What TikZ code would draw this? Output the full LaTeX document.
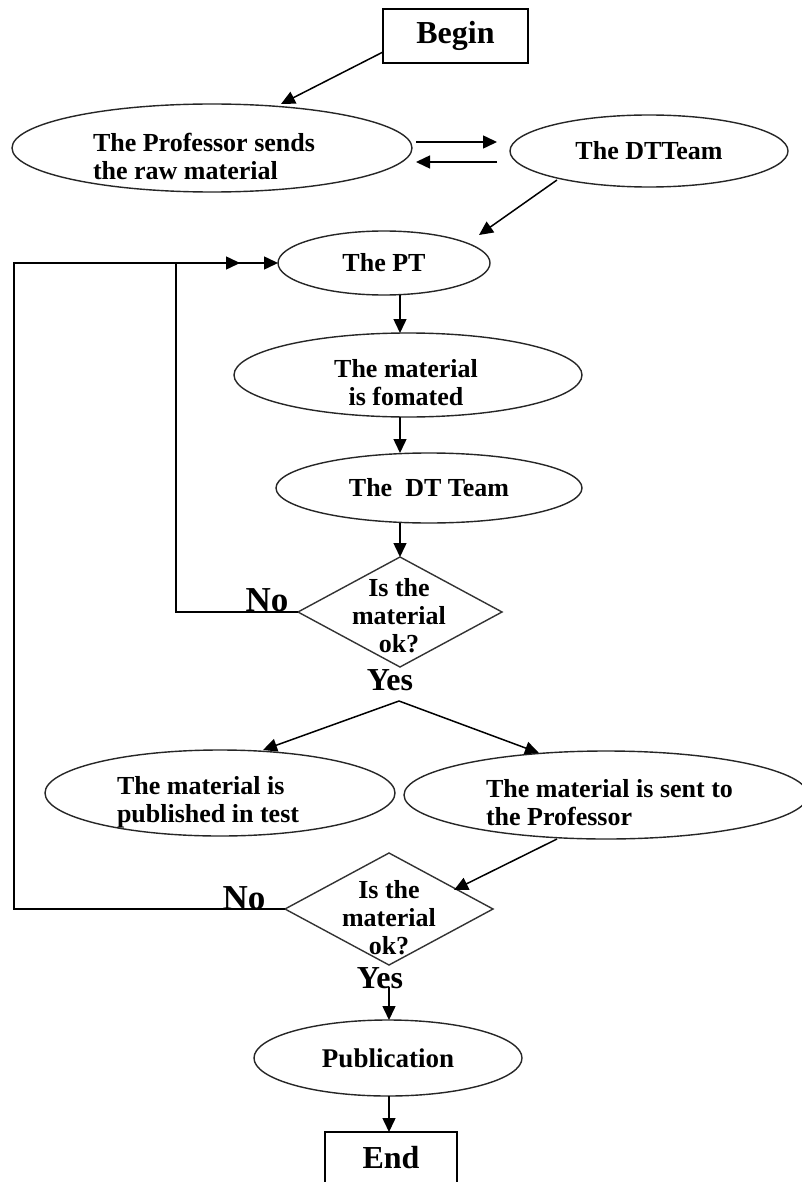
\documentclass[tikz,border=0pt]{standalone}
\usepackage{fontspec}
\setmainfont{Liberation Serif}
\usetikzlibrary{shapes.geometric,arrows.meta,calc}
\begin{document}
\begin{tikzpicture}[x=1pt,y=-1pt,
  base/.style={line width=1.4pt, inner sep=0pt, outer sep=0pt, font=\bfseries\fontsize{26}{28}\selectfont},
  oval/.style={base, draw=black!85, ellipse},
  boxnode/.style={base, draw, rectangle, font=\bfseries\fontsize{32}{34}\selectfont},
  dia/.style={base, draw=black!80, diamond},
  txt/.style={base, align=center},
  nolbl/.style={base, font=\bfseries\fontsize{35}{37}\selectfont},
  yeslbl/.style={base, font=\bfseries\fontsize{32}{34}\selectfont},
  arr/.style={line width=1.5pt, -{Triangle[length=14pt,width=13pt]}},
  ln/.style={line width=1.5pt}]
\useasboundingbox (0,0) rectangle (802,1182);
\fill[white] (0,0) rectangle (802,1182);
\clip (0,0) rectangle (802,1182);

% nodes
\node[boxnode, minimum width=145pt, minimum height=54pt] (begin) at (455.5,36) {Begin};
\node[oval, minimum width=400pt, minimum height=88pt] (prof) at (212,148) {};
\node[txt, align=left, anchor=west] (proft) at (93,156) {The Professor sends\\the raw material};
\node[oval, minimum width=278pt, minimum height=72pt] (dtt1) at (649,151) {The DTTeam};
\node[oval, minimum width=212pt, minimum height=64pt] (pt) at (384,263) {The PT};
\node[oval, minimum width=348pt, minimum height=84pt] (fmt) at (408,375) {};
\node[txt] (fmtt) at (406,383) {The material\\is fomated};
\node[oval, minimum width=306pt, minimum height=70pt] (dtt2) at (429,488) {The\ \ DT Team};
\node[dia, minimum width=204pt, minimum height=110pt] (d1) at (400,612) {};
\node[txt] (d1t) at (399,616) {Is the\\material\\ok?};
\node[nolbl] (no1) at (267,600) {No};
\node[yeslbl] (yes1) at (390,680) {Yes};
\node[oval, minimum width=350pt, minimum height=86pt] (pubt) at (220,793) {};
\node[txt, align=left, anchor=west] (pubtt) at (117,802) {The material is\\published in test};
\node[oval, minimum width=404pt, minimum height=88pt] (sent) at (606,795) {};
\node[txt, align=left, anchor=west] (sentt) at (486,803) {The material is sent to\\the Professor};
\node[dia, minimum width=208pt, minimum height=112pt] (d2) at (389,909) {};
\node[txt] (d2t) at (389,918) {Is the\\material\\ok?};
\node[nolbl] (no2) at (244,898) {No};
\node[yeslbl] (yes2) at (380,978) {Yes};
\node[oval, minimum width=268pt, minimum height=76pt, font=\bfseries\fontsize{27}{29}\selectfont] (publ) at (388,1058) {Publication};
\node[boxnode, minimum width=132pt, minimum height=52pt] (end) at (391,1158) {End};

% helper coordinates
\coordinate (colA) at (400,0);
\coordinate (colB) at (389,0);
\coordinate (loopA) at (176,612);
\coordinate (loopB) at (14,909);
\coordinate (outerTip) at (240,263);
\coordinate (apex) at (399,701);
\coordinate (ytail) at (389,987);

% connectors
\draw[arr] ([yshift=-16pt]begin.west) -- ([xshift=69pt]prof.north);
\draw[arr] ([xshift=4pt,yshift=6pt]prof.east) -- ([xshift=-13pt,yshift=9pt]dtt1.west);
\draw[arr] ([xshift=-13pt,yshift=-11pt]dtt1.west) -- ([xshift=4pt,yshift=-14pt]prof.east);
\draw[arr] ([xshift=-92pt,yshift=7pt]dtt1.south) -- ([xshift=95pt,yshift=-4pt]pt.north);
\draw[arr] (pt.south -| colA) -- (fmt.north -| colA);
\draw[arr] (fmt.south -| colA) -- (dtt2.north -| colA);
\draw[arr] (dtt2.south -| colA) -- (d1.north);
\draw[arr] (d2.west) -- (loopB) |- (outerTip);
\draw[arr] (d1.west) -- (loopA) |- (pt.west);
\draw[arr] (apex) -- ([xshift=43pt]pubt.north);
\draw[arr] (apex) -- ([xshift=-67pt,yshift=-2pt]sent.north);
\draw[arr] ([xshift=-49pt]sent.south) -- ([xshift=65pt,yshift=19pt]d2.center);
\draw[arr] (ytail) -- (publ.north -| colB);
\draw[arr] (publ.south -| colB) -- (end.north -| colB);
\end{tikzpicture}
\end{document}
